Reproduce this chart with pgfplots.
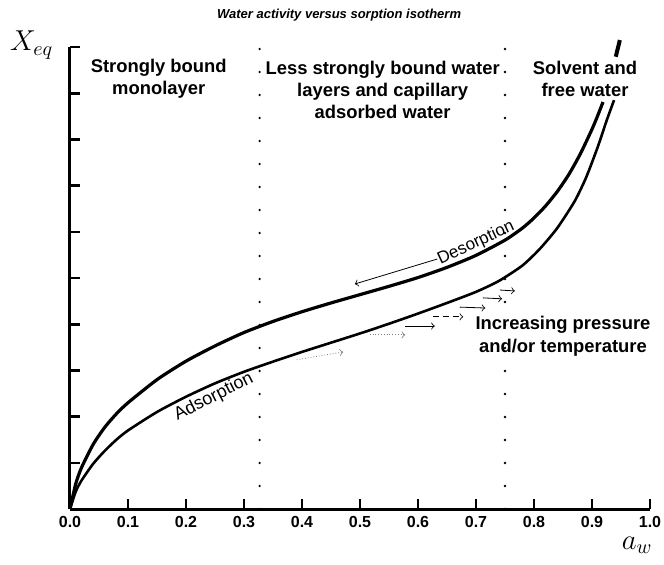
\documentclass[border=0pt]{standalone}
\usepackage{pgfplots}
\pgfplotsset{compat=1.18}
\usepackage{fontspec}
\setmainfont{Liberation Sans}
\begin{document}
\begin{tikzpicture}
\begin{axis}[
  scale only axis, width=290pt, height=231pt,
  xmin=0, xmax=1, ymin=0, ymax=10,
  axis x line*=bottom, axis y line*=left,
  axis line style={line width=1.5pt, black},
  xtick={0,0.1,0.2,0.3,0.4,0.5,0.6,0.7,0.8,0.9,1.0},
  ytick={1,2,3,4,5,6,7,8,9,10}, yticklabels={},
  tick align=inside, major tick length=5pt,
  tick style={line width=1.3pt, black},
  /pgf/number format/assume math mode=true,
  xticklabel style={font=\bfseries\fontsize{8}{8}\selectfont, /pgf/number format/fixed, /pgf/number format/fixed zerofill, /pgf/number format/precision=1},
  clip=false,
]
% region borders
\addplot[line width=1.3pt, dash pattern=on 0pt off 11.5pt, line cap=round] coordinates {(0.327,0) (0.327,10.3)};
\addplot[line width=1.3pt, dash pattern=on 0pt off 11.5pt, line cap=round] coordinates {(0.75,0) (0.75,10.3)};
% desorption (upper)
\addplot[line width=1.6pt, smooth, tension=0.4] coordinates {
(0,0) (0.01,0.55) (0.02,0.90) (0.04,1.40) (0.06,1.77) (0.08,2.06) (0.10,2.30)
(0.15,2.80) (0.20,3.20) (0.25,3.53) (0.30,3.82) (0.35,4.06) (0.40,4.27) (0.45,4.46)
(0.50,4.64) (0.55,4.82) (0.60,5.01) (0.65,5.23) (0.70,5.49) (0.75,5.82) (0.78,6.08)
(0.80,6.30) (0.82,6.56) (0.84,6.87) (0.86,7.24) (0.88,7.69) (0.90,8.22) (0.91,8.52) (0.919,8.81)};
% adsorption (lower)
\addplot[line width=1.3pt, smooth, tension=0.4] coordinates {
(0,0) (0.01,0.38) (0.02,0.62) (0.04,0.98) (0.06,1.26) (0.08,1.50) (0.10,1.70)
(0.15,2.10) (0.20,2.43) (0.25,2.72) (0.30,2.97) (0.35,3.19) (0.40,3.40) (0.45,3.60)
(0.50,3.80) (0.55,4.01) (0.60,4.23) (0.65,4.46) (0.70,4.70) (0.74,4.94) (0.78,5.27)
(0.81,5.63) (0.84,6.08) (0.87,6.66) (0.89,7.18) (0.91,7.84) (0.925,8.40) (0.938,8.85)};
% top stroke
\addplot[line width=2pt] coordinates {(0.941,9.79) (0.948,10.15)};
% arrows
\draw[->, thin] (axis cs:0.633,5.41) -- (axis cs:0.491,4.87);
\draw[->, thin] (axis cs:0.741,4.74) -- (axis cs:0.767,4.72);
\draw[->, thin] (axis cs:0.712,4.57) -- (axis cs:0.745,4.55);
\draw[->, thin] (axis cs:0.672,4.37) -- (axis cs:0.716,4.35);
\draw[->, thin, densely dashed] (axis cs:0.626,4.16) -- (axis cs:0.678,4.16);
\draw[->, thin] (axis cs:0.578,3.96) -- (axis cs:0.629,3.96);
\draw[->, thin, gray, densely dotted] (axis cs:0.517,3.77) -- (axis cs:0.578,3.77);
\draw[->, thin, gray, densely dotted] (axis cs:0.391,3.23) -- (axis cs:0.471,3.40);
% texts
\node[font=\bfseries\itshape\fontsize{6.5}{7}\selectfont] at (axis cs:0.464,10.69) {Water activity versus sorption isotherm};
\node[font=\bfseries\fontsize{9.2}{11}\selectfont, align=center] at (axis cs:0.153,9.31) {Strongly bound\\monolayer};
\node[font=\bfseries\fontsize{9.2}{11}\selectfont, align=center] at (axis cs:0.539,9.07) {Less strongly bound water\\layers and capillary\\adsorbed water};
\node[font=\bfseries\fontsize{9.2}{11}\selectfont, align=center] at (axis cs:0.888,9.31) {Solvent and\\free water};
\node[font=\bfseries\fontsize{9.2}{11.5}\selectfont, align=center] at (axis cs:0.85,3.73) {Increasing pressure\\and/or temperature};
\node[font=\fontsize{9}{9}\selectfont, rotate=27, inner sep=0pt] at (axis cs:0.248,2.42) {Adsorption};
\node[font=\fontsize{8.5}{8.5}\selectfont, rotate=25, inner sep=0pt] at (axis cs:0.70,5.76) {Desorption};
\node[font=\fontsize{14.4}{15}\selectfont] at (axis cs:-0.066,10.04) {$X_{eq}$};
\node[font=\fontsize{14.4}{15}\selectfont] at (axis cs:0.978,-0.78) {$a_{w}$};
\end{axis}
\pgfresetboundingbox
\path (-35pt,-27.5pt) rectangle (297pt,254.5pt);
\end{tikzpicture}
\end{document}
